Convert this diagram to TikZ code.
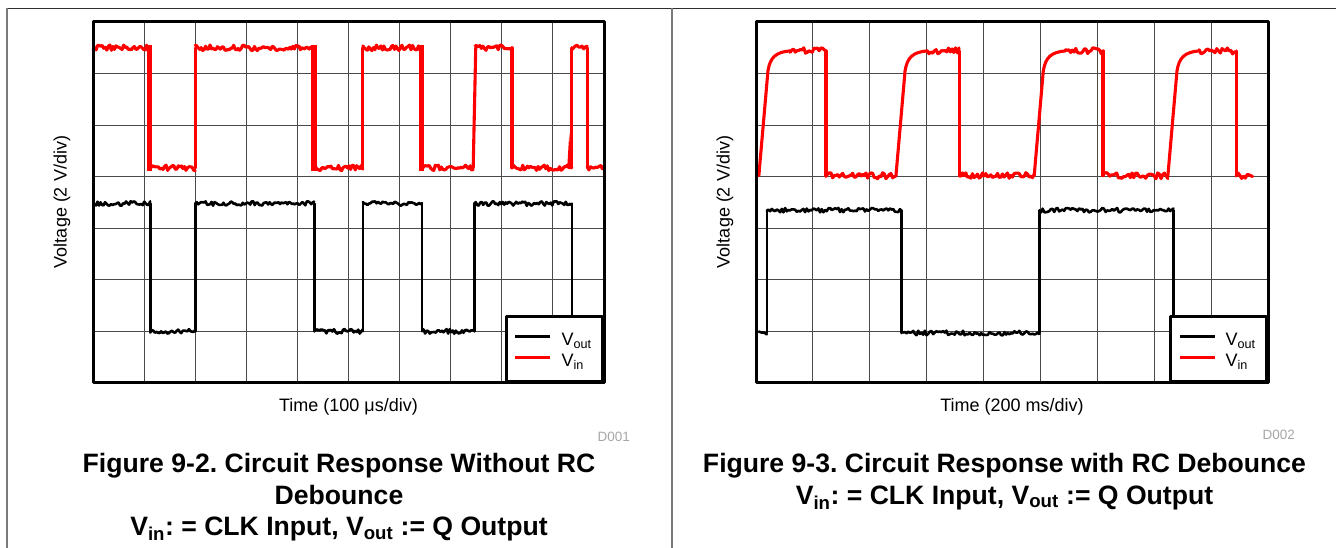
\documentclass[tikz,border=0pt]{standalone}
\usepackage{fontspec}
\setmainfont{Liberation Sans}
\usepackage{tikz}
\usetikzlibrary{calc,positioning}
\frenchspacing
\definecolor{vinred}{HTML}{FF0000}
\definecolor{gridline}{HTML}{4A4A4A}
\definecolor{panelrule}{HTML}{7A7A7A}
\definecolor{toprule}{HTML}{2E2E2E}
\definecolor{tagtext}{HTML}{A6A6A6}
\tikzset{
  ScreenGrid/.style={draw=gridline, line width=0.9pt},
  ScreenFrame/.style={draw=black, line width=3pt},
  VinTrace/.style={draw=vinred, line width=3.1pt, line join=round, line cap=round},
  VoutTrace/.style={draw=black, line width=2.6pt, line join=round, line cap=round},
  LegendBox/.style={
    draw=black, line width=2.6pt, fill=white,
    minimum width=96pt, minimum height=65pt, inner sep=0pt
  },
  AxisText/.style={font=\fontsize{18}{21}\selectfont, inner sep=0pt},
  CaptionText/.style={font=\bfseries\fontsize{26.6}{31.5}\selectfont, inner sep=0pt},
  PlotTag/.style={text=tagtext, font=\fontsize{13.5}{16}\selectfont, inner sep=0pt}
}
\newcommand{\NoisyLevel}[5][]{%
  % #1 = trace style, #2 = x start, #3 = x end, #4 = level, #5 = noise (div)
  \pgfmathtruncatemacro{\nsamples}{max(2,(#3-#2)*35)}%
  \draw[#1] plot[domain=#2:#3, samples=\nsamples] (\x,{#4+#5*rand});
}
\newcommand{\RcEdge}[4][]{%
  % #1 = trace style, #2 = x start, #3 = low level, #4 = high level
  \pgfmathsetmacro{\rcA}{#3+0.84*(#4-#3)}%
  \pgfmathsetmacro{\rcB}{#3+0.95*(#4-#3)}%
  \pgfmathsetmacro{\rcC}{#3+0.99*(#4-#3)}%
  \draw[#1] (#2,#3) -- ({#2+0.16},\rcA)
    .. controls ({#2+0.2},\rcB) and ({#2+0.3},\rcC) .. ({#2+0.55},#4);
}

\begin{document}
\begin{tikzpicture}[x=1pt, y=1pt, line cap=round, line join=round]
  \useasboundingbox (0,0) rectangle (1336,548);
  \pgfmathsetseed{42}

  % rules round the two panels
  \draw[toprule, line width=1.2pt] (7,539.5) -- (1336,539.5);
  \draw[panelrule, line width=1.2pt] (7,539.5) -- (7,0);
  \draw[panelrule, line width=1.5pt] (672,539.5) -- (672,0);

  % left screen, no debounce
  \coordinate (ScrL) at (93,165);
  \begin{scope}[shift={(ScrL)}, x=51.1pt, y=51.571pt]
    \foreach \gx in {1,...,9} \draw[ScreenGrid] (\gx,0) -- (\gx,7);
    \foreach \gy in {1,...,6} \draw[ScreenGrid] (0,\gy) -- (10,\gy);

    % vin with switch bounce
    \foreach \xa/\xb in {0/1.08, 2.0/4.29, 5.28/6.40, 7.48/8.2, 9.37/9.67}
      {\NoisyLevel[VinTrace]{\xa}{\xb}{6.5}{0.055}}
    \foreach \xa/\xb in {1.13/2.0, 4.36/5.28, 6.46/7.44, 8.2/9.37, 9.67/10}
      {\NoisyLevel[VinTrace]{\xa}{\xb}{4.17}{0.055}}
    \foreach \xa/\xb in {1.06/1.15, 4.27/4.38, 6.38/6.48}
      \fill[vinred] (\xa,4.12) rectangle (\xb,6.56);
    \foreach \ex in {2.0, 5.28, 8.2, 9.37, 9.67}
      \draw[VinTrace] (\ex,4.17) -- (\ex,6.5);
    \draw[VinTrace] (7.44,4.17) -- (7.49,6.5);
    \fill[vinred] (9.28,4.17) -- (9.32,4.84) -- (9.36,4.17) -- cycle;

    % vout
    \foreach \xa/\xb in {0/1.12, 2.0/4.33, 5.28/6.44, 7.46/9.37}
      {\NoisyLevel[VoutTrace]{\xa}{\xb}{3.48}{0.045}}
    \foreach \xa/\xb in {1.12/2.0, 4.33/5.28, 6.44/7.46}
      {\NoisyLevel[VoutTrace]{\xa}{\xb}{1.0}{0.045}}
    \foreach \ex in {1.12, 2.0, 4.33, 5.28, 6.44, 7.46, 9.37}
      \draw[VoutTrace] (\ex,1.0) -- (\ex,3.48);

    % legend
    \node[LegendBox, anchor=south east] (LegL) at (10,0) {};
    \draw[VoutTrace, line cap=butt] ([xshift=10pt, yshift=-21pt]LegL.north west) -- ++(35pt,0);
    \draw[VinTrace, line cap=butt] ([xshift=10pt, yshift=-42pt]LegL.north west) -- ++(35pt,0);
    \node[AxisText, anchor=base west] (LegLout) at ([xshift=56pt, yshift=-30.5pt]LegL.north west) {V\textsubscript{out}};
    \node[AxisText, anchor=base west] (LegLin) at ([xshift=56pt, yshift=-51pt]LegL.north west) {V\textsubscript{in}};

    \draw[ScreenFrame] (0,0) rectangle (10,7);
  \end{scope}

  \node[AxisText, rotate=90] (VoltL) at (62,346) {Voltage (2 V/div)};
  \node[AxisText, anchor=base] (TimeL) at (348.5,136) {Time (100 μs/div)};
  \node[PlotTag, anchor=base east] (TagL) at (630,106.3) {D001};
  \node[CaptionText, anchor=base] (CapLa) at (339,75.3) {Figure 9-2. Circuit Response Without RC};
  \node[CaptionText, anchor=base] (CapLb) at (339,43.8) {Debounce};
  \node[CaptionText, anchor=base] (CapLc) at (339,12) {V\textsubscript{in}: = CLK Input, V\textsubscript{out} := Q Output};

  % right screen, rc debounce
  \coordinate (ScrR) at (756,165);
  \begin{scope}[shift={(ScrR)}, x=56.889pt, y=51.571pt]
    \foreach \gx in {1,...,8} \draw[ScreenGrid] (\gx,0) -- (\gx,7);
    \foreach \gy in {1,...,6} \draw[ScreenGrid] (0,\gy) -- (9,\gy);

    % vin, slow rc rise
    \foreach \xa in {0.05, 2.46, 4.89, 7.24}
      {\RcEdge[VinTrace]{\xa}{4.02}{6.44}}
    \foreach \xa/\xb in {0.6/1.23, 3.01/3.57, 5.44/6.10, 7.79/8.44}
      {\NoisyLevel[VinTrace]{\xa}{\xb}{6.44}{0.06}}
    \foreach \xa/\xb in {1.23/2.46, 3.57/4.89, 6.10/7.24, 8.44/8.73}
      {\NoisyLevel[VinTrace]{\xa}{\xb}{4.02}{0.06}}
    \foreach \ex in {1.23, 3.57, 6.10, 8.44}
      \draw[VinTrace] (\ex,4.02) -- (\ex,6.44);

    % vout
    \foreach \xa/\xb in {0.05/0.19, 2.56/4.98}
      {\NoisyLevel[VoutTrace]{\xa}{\xb}{0.97}{0.045}}
    \foreach \xa/\xb in {0.19/2.56, 4.98/7.34}
      {\NoisyLevel[VoutTrace]{\xa}{\xb}{3.35}{0.045}}
    \foreach \ex in {0.19, 2.56, 4.98, 7.34}
      \draw[VoutTrace] (\ex,0.97) -- (\ex,3.35);

    % legend
    \node[LegendBox, anchor=south east] (LegR) at (9,0) {};
    \draw[VoutTrace, line cap=butt] ([xshift=10.5pt, yshift=-21pt]LegR.north west) -- ++(35pt,0);
    \draw[VinTrace, line cap=butt] ([xshift=10.5pt, yshift=-42pt]LegR.north west) -- ++(35pt,0);
    \node[AxisText, anchor=base west] (LegRout) at ([xshift=56pt, yshift=-30.5pt]LegR.north west) {V\textsubscript{out}};
    \node[AxisText, anchor=base west] (LegRin) at ([xshift=56pt, yshift=-51pt]LegR.north west) {V\textsubscript{in}};

    \draw[ScreenFrame] (0,0) rectangle (9,7);
  \end{scope}

  \node[AxisText, rotate=90] (VoltR) at (725,346) {Voltage (2 V/div)};
  \node[AxisText, anchor=base] (TimeR) at (1012,136) {Time (200 ms/div)};
  \node[PlotTag, anchor=base east] (TagR) at (1295,108) {D002};
  \node[CaptionText, anchor=base] (CapRa) at (1004.5,75.3) {Figure 9-3. Circuit Response with RC Debounce};
  \node[CaptionText, anchor=base] (CapRb) at (1004.5,43.8) {V\textsubscript{in}: = CLK Input, V\textsubscript{out} := Q Output};
\end{tikzpicture}
\end{document}
